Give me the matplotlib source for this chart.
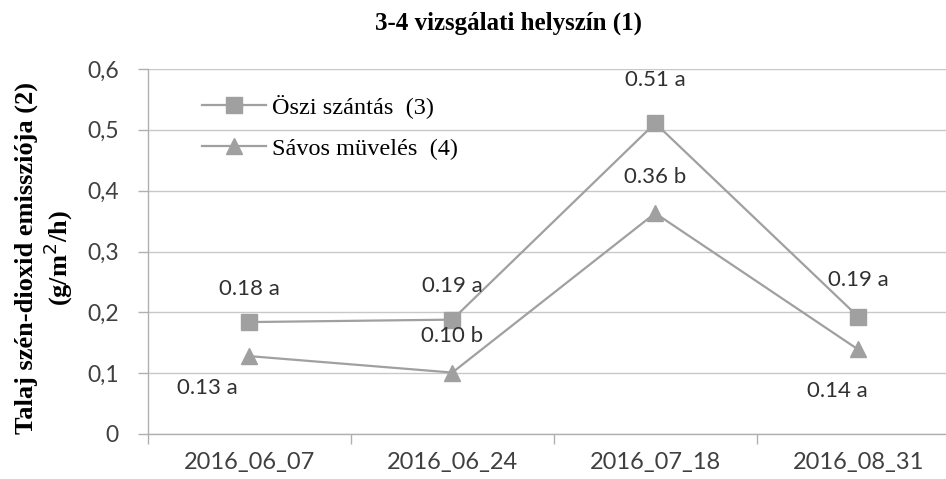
import matplotlib.pyplot as plt

dates = ["2016_06_07", "2016_06_24", "2016_07_18", "2016_08_31"]
oszi = [0.184, 0.188, 0.511, 0.193]
savos = [0.128, 0.101, 0.363, 0.139]
oszi_labels = ["0.18 a", "0.19 a", "0.51 a", "0.19 a"]
savos_labels = ["0.13 a", "0.10 b", "0.36 b", "0.14 a"]
yticks = [0, 0.1, 0.2, 0.3, 0.4, 0.5, 0.6]
ytick_labels = ["0", "0,1", "0,2", "0,3", "0,4", "0,5", "0,6"]

grey = "#a0a0a0"
text_col = "#404040"
serif = "Liberation Serif"
sans = "Lato"

fig = plt.figure(figsize=(9.46, 4.79), dpi=100)
ax = fig.add_axes([148 / 946, 45 / 479, 811.5 / 946, 365 / 479])

x = list(range(len(dates)))
ax.plot(x, oszi, color=grey, lw=1.6, marker="s", markersize=11.5,
        label="Öszi szántás  (3)", zorder=3)
ax.plot(x, savos, color=grey, lw=1.6, marker="^", markersize=12,
        label="Sávos müvelés  (4)", zorder=3)

# data labels (offsets in points)
oszi_off = [(0, 24), (0, 24), (0, 31), (0, 26)]
savos_off = [(-30, -23), (0, 26), (0, 26), (-15, -30)]
for i in x:
    ax.annotate(oszi_labels[i], (x[i], oszi[i]), xytext=oszi_off[i],
                textcoords="offset points", ha="center", va="center",
                fontsize=16, family=sans, color="#303030")
    ax.annotate(savos_labels[i], (x[i], savos[i]), xytext=savos_off[i],
                textcoords="offset points", ha="center", va="center",
                fontsize=16, family=sans, color="#303030")

ax.set_xlim(-0.5, 3.5)
ax.set_ylim(0, 0.6)
ax.set_yticks(yticks)
ax.set_yticklabels(ytick_labels, family=sans, fontsize=16.5, color=text_col)
ax.set_xticks(x)
ax.set_xticklabels(dates, family=sans, fontsize=17, color=text_col)
ax.set_xticks([-0.5, 0.5, 1.5, 2.5, 3.5], minor=True)
ax.tick_params(axis="x", which="major", length=0, pad=13)
ax.tick_params(axis="x", which="minor", length=7, color="#b0b0b0", width=1)
ax.tick_params(axis="y", length=7, color="#b0b0b0", width=1, pad=14)

ax.grid(axis="y", color="#c8c8c8", lw=1)
ax.set_axisbelow(True)
for s in ["top", "right"]:
    ax.spines[s].set_visible(False)
for s in ["left", "bottom"]:
    ax.spines[s].set_color("#b0b0b0")
    ax.spines[s].set_linewidth(1)

fig.text(508 / 946, 1 - 23 / 479, "3-4 vizsgálati helyszín (1)", ha="center",
         va="center", family=serif, fontweight="bold", fontsize=18)
fig.text(26 / 946, 1 - 258 / 479, "Talaj szén-dioxid emissziója (2)",
         rotation=90, ha="center", va="center", family=serif,
         fontweight="bold", fontsize=19)
fig.text(58 / 946, 1 - 258 / 479, "(g/m$^2$/h)", rotation=90, ha="center",
         va="center", family=serif, fontweight="bold", fontsize=19)

leg = ax.legend(loc="upper left", bbox_to_anchor=(0.04, 0.99), frameon=False,
                prop={"family": serif, "size": 17.5}, labelspacing=0.8,
                handlelength=2.6, handletextpad=0.25)

fig.savefig("out.png", dpi=100)
